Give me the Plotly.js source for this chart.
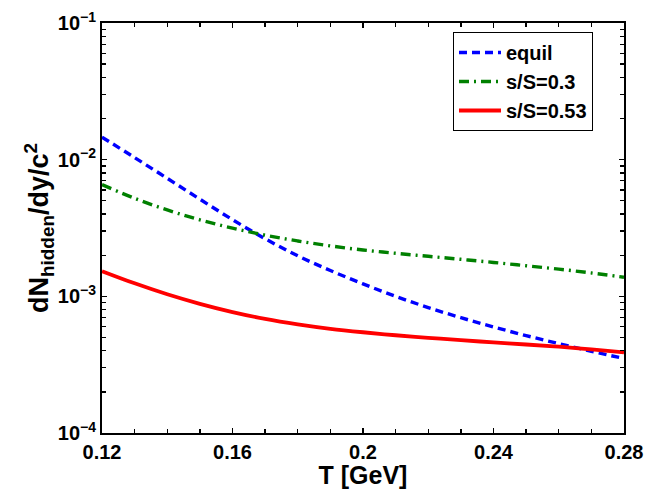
<!DOCTYPE html>
<html>
<head>
<meta charset="utf-8">
<script src="https://cdn.plot.ly/plotly-3.0.1.min.js"></script>
<style>
  html, body { margin: 0; padding: 0; background: #ffffff; }
  #chart { width: 647px; height: 489px; }
</style>
</head>
<body>
<div id="chart"></div>
<script>
// Temperature grid (GeV)
const temperature = [0.12, 0.13, 0.14, 0.15, 0.16, 0.17, 0.18, 0.19, 0.20,
                     0.21, 0.22, 0.23, 0.24, 0.25, 0.26, 0.27, 0.28];

// Hidden-strangeness yields dN/dy/c^2
const equil = [0.01462, 0.01035, 0.0073, 0.00514, 0.00364, 0.00264, 0.00198, 0.001545, 0.001233,
               0.0010, 0.000828, 0.000698, 0.000597, 0.000516, 0.000451, 0.000396, 0.000351];
const sS03  = [0.006561, 0.005212, 0.004285, 0.003631, 0.003155, 0.002805, 0.002541, 0.002339, 0.002183,
               0.002065, 0.001963, 0.001866, 0.00177, 0.001675, 0.001581, 0.001483, 0.00138];
const sS053 = [0.001528, 0.001245, 0.001035, 0.000881, 0.000767, 0.000684, 0.000624, 0.000579, 0.000546,
               0.000519, 0.000497, 0.000478, 0.00046, 0.000444, 0.000428, 0.000409, 0.000389];

const seriesNames = ["equil", "s/S=0.3", "s/S=0.53"];

// Axis ticks
const xTickVals = [0.12, 0.16, 0.20, 0.24, 0.28];
const xTickText = ["0.12", "0.16", "0.2", "0.24", "0.28"];
const yTickVals = [1e-4, 1e-3, 1e-2, 1e-1];
const yTickText = ["10<sup>−4</sup>", "10<sup>−3</sup>", "10<sup>−2</sup>", "10<sup>−1</sup>"];

const FONT = "Liberation Sans, Arial, Helvetica, sans-serif";

const traces = [
  { x: temperature, y: equil, name: seriesNames[0], mode: "lines",
    line: { color: "#0000ff", width: 3.4, dash: "8px,5px", shape: "spline" } },
  { x: temperature, y: sS03, name: seriesNames[1], mode: "lines",
    line: { color: "#008000", width: 3.4, dash: "10px,5px,2px,5px", shape: "spline" } },
  { x: temperature, y: sS053, name: seriesNames[2], mode: "lines",
    line: { color: "#ff0000", width: 3.8, shape: "spline" } }
];

const tickFont = { family: FONT, size: 20, color: "#000000", weight: "bold" };

const layout = {
  width: 647, height: 489,
  margin: { l: 102, r: 23, t: 23, b: 56, pad: 0 },
  paper_bgcolor: "#ffffff", plot_bgcolor: "#ffffff",
  showlegend: true,
  legend: {
    x: 0.9406, y: 0.978, xanchor: "right", yanchor: "top",
    bgcolor: "#ffffff", bordercolor: "#000000", borderwidth: 1,
    font: { family: FONT, size: 20, color: "#000000", weight: "bold" },
    itemwidth: 42,
    tracegroupgap: 0
  },
  xaxis: {
    range: [0.12, 0.28],
    tickvals: xTickVals, ticktext: xTickText,
    ticks: "inside", ticklen: 5, tickwidth: 1.3, tickcolor: "#000000",
    minor: { dtick: 0.01, ticks: "inside", ticklen: 4, tickwidth: 1.3, tickcolor: "#000000", showgrid: false },
    showline: true, linecolor: "#000000", linewidth: 2, mirror: "ticks",
    showgrid: false, zeroline: false,
    tickfont: tickFont,
    title: { text: "T [GeV]", font: { family: FONT, size: 25, color: "#000000", weight: "bold" }, standoff: 8 }
  },
  yaxis: {
    type: "log",
    range: [-4, -1],
    tickvals: yTickVals, ticktext: yTickText,
    ticks: "inside", ticklen: 5, tickwidth: 1.3, tickcolor: "#000000",
    minor: { dtick: "D1", ticks: "inside", ticklen: 4, tickwidth: 1.3, tickcolor: "#000000", showgrid: false },
    showline: true, linecolor: "#000000", linewidth: 2, mirror: "ticks",
    showgrid: false, zeroline: false,
    tickfont: tickFont,
    title: { text: "dN<sub>hidden</sub>/dy/c<sup>2</sup>", font: { family: FONT, size: 27, color: "#000000", weight: "bold" }, standoff: 0 }
  }
};

Plotly.newPlot("chart", traces, layout, { displayModeBar: false, staticPlot: true });
</script>
</body>
</html>
